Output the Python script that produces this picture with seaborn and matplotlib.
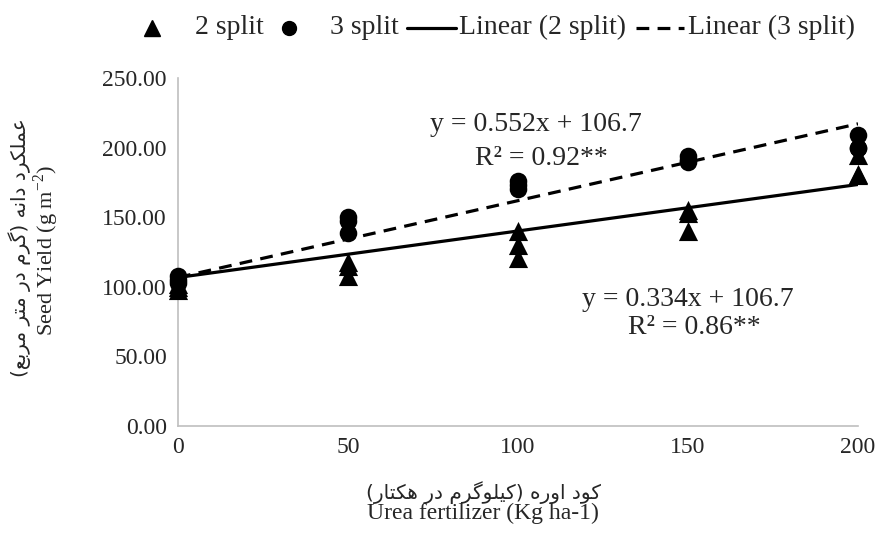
import re
import numpy as np
import pandas as pd
import matplotlib
matplotlib.use("Agg")
import matplotlib.pyplot as plt
from matplotlib.lines import Line2D
import seaborn as sns

# ---------------- data ----------------
urea_levels = [0, 50, 100, 150, 200]
split2_x = [0, 0, 0, 50, 50, 50, 100, 100, 100, 150, 150, 150, 200, 200, 200]
split2_y = [100, 98, 102, 118, 115, 108, 140, 130, 121, 155, 153, 140, 195, 181, 180]
split3_x = [0, 0, 0, 50, 50, 50, 100, 100, 100, 150, 150, 150, 200, 200, 200]
split3_y = [108, 105, 103, 150, 147, 139, 176, 173, 170, 194, 191, 190, 209, 200, 200]
fit2 = (0.334, 106.7)
fit3 = (0.552, 106.7)
y_ticks = [0, 50, 100, 150, 200, 250]
legend_labels = ["2 split", "3 split", "Linear (2 split)", "Linear (3 split)"]
eq2_text = ["y = 0.334x + 106.7", "R² = 0.86**"]
eq3_text = ["y = 0.552x + 106.7", "R² = 0.92**"]
xlabel_en = "Urea fertilizer (Kg ha-1)"
ylabel_en = "Seed Yield (g m$^{-2}$)"
xlabel_fa = "کود اوره (کیلوگرم در هکتار)"
ylabel_fa = "عملکرد دانه (گرم در متر مربع)"

# ---------------- simple Persian shaping ----------------
FORMS = {
    "ا": (0xFE8D, 0xFE8E, None, None),
    "ب": (0xFE8F, 0xFE90, 0xFE91, 0xFE92),
    "ت": (0xFE95, 0xFE96, 0xFE97, 0xFE98),
    "د": (0xFEA9, 0xFEAA, None, None),
    "ر": (0xFEAD, 0xFEAE, None, None),
    "ع": (0xFEC9, 0xFECA, 0xFECB, 0xFECC),
    "ل": (0xFEDD, 0xFEDE, 0xFEDF, 0xFEE0),
    "م": (0xFEE1, 0xFEE2, 0xFEE3, 0xFEE4),
    "ن": (0xFEE5, 0xFEE6, 0xFEE7, 0xFEE8),
    "ه": (0xFEE9, 0xFEEA, 0xFEEB, 0xFEEC),
    "و": (0xFEED, 0xFEEE, None, None),
    "ک": (0xFB8E, 0xFB8F, 0xFB90, 0xFB91),
    "گ": (0xFB92, 0xFB93, 0xFB94, 0xFB95),
    "ی": (0xFBFC, 0xFBFD, 0xFBFE, 0xFBFF),
}


def dual(c):
    return c in FORMS and FORMS[c][2] is not None


def shape(s):
    out = []
    for i, c in enumerate(s):
        if c not in FORMS:
            out.append(c)
            continue
        prev = s[i - 1] if i > 0 else ""
        nxt = s[i + 1] if i + 1 < len(s) else ""
        cp = dual(prev)
        cn = dual(c) and nxt in FORMS
        iso, fin, ini, med = FORMS[c]
        if cp and cn:
            out.append(chr(med))
        elif cp:
            out.append(chr(fin))
        elif cn:
            out.append(chr(ini))
        else:
            out.append(chr(iso))
    return "".join(out)


def rtl_full(s):
    m = {"(": ")", ")": "("}
    return "".join(m.get(c, c) for c in shape(s)[::-1])


# ---------------- plot ----------------
sns.set_theme(style="white")
plt.rcParams["font.family"] = ["Liberation Serif", "DejaVu Sans"]
plt.rcParams["mathtext.fontset"] = "custom"
plt.rcParams["mathtext.rm"] = "Liberation Serif"

W, H = 877, 548
fig = plt.figure(figsize=(W / 100, H / 100), dpi=100)
ax = fig.add_axes([178 / W, 1 - 426 / H, 680 / W, 348 / H])

df2 = pd.DataFrame({"x": split2_x, "y": split2_y})
df3 = pd.DataFrame({"x": split3_x, "y": split3_y})
sns.scatterplot(data=df3, x="x", y="y", marker="o", color="black", s=160,
                edgecolor="black", linewidth=0, ax=ax, clip_on=False, zorder=3)
sns.scatterplot(data=df2, x="x", y="y", marker="^", color="black", s=190,
                edgecolor="black", linewidth=0, ax=ax, clip_on=False, zorder=3)

dash = (0, (4, 2.6))
xs = np.array([urea_levels[0], urea_levels[-1]])
sns.lineplot(x=xs, y=fit2[0] * xs + fit2[1], color="black", lw=2.3, ax=ax, zorder=2)
sns.lineplot(x=xs, y=fit3[0] * xs + fit3[1], color="black", lw=2.3, ax=ax,
             zorder=2, linestyle=dash)

ax.set_xlim(0, 200)
ax.set_ylim(0, 250)
ax.set_xticks(urea_levels)
ax.set_xticklabels([str(v) for v in urea_levels], fontsize=17)
ax.set_yticks(y_ticks)
ax.set_yticklabels([f"{v:.2f}" for v in y_ticks], fontsize=17)
ax.tick_params(axis="both", length=0, pad=8)
for side in ["top", "right"]:
    ax.spines[side].set_visible(False)
for side in ["left", "bottom"]:
    ax.spines[side].set_color("#bfbfbf")
    ax.spines[side].set_linewidth(1.2)
ax.set_xlabel("")
ax.set_ylabel("")

# equations
ax.text(105.3, 216.5, eq3_text[0], ha="center", va="center", fontsize=20)
ax.text(106.8, 192.0, eq3_text[1], ha="center", va="center", fontsize=20)
ax.text(150.0, 91.0, eq2_text[0], ha="center", va="center", fontsize=20)
ax.text(152.0, 71.0, eq2_text[1], ha="center", va="center", fontsize=20)

# axis labels
fig.text(483 / W, 1 - 513 / H, xlabel_en, ha="center", va="center", fontsize=17)
fig.text(483 / W, 1 - 493 / H, rtl_full(xlabel_fa), ha="center",
         va="center", fontsize=14.5, family=["DejaVu Sans"])
fig.text(46 / W, 1 - 250 / H, ylabel_en, ha="center", va="center",
         rotation=90, fontsize=16)
fig.text(20 / W, 1 - 248 / H, rtl_full(ylabel_fa), ha="center", va="center",
         rotation=90, fontsize=14.5, family=["DejaVu Sans"])

# legend (drawn manually at the reference positions)
ly = 1 - 28 / H
base = 1 - 34 / H
fig.add_artist(Line2D([152 / W], [ly], marker="^", color="black", linestyle="none",
                      markersize=11, transform=fig.transFigure))
fig.add_artist(Line2D([289 / W], [ly], marker="o", color="black", linestyle="none",
                      markersize=10, transform=fig.transFigure))
fig.add_artist(Line2D([407 / W, 456 / W], [ly, ly], color="black", lw=2.3,
                      transform=fig.transFigure))
fig.add_artist(Line2D([636 / W, 684 / W], [ly, ly], color="black", lw=2.3,
                      linestyle=dash, transform=fig.transFigure))
for xpix, lab in zip([195, 330, 459, 688], legend_labels):
    fig.text(xpix / W, base, lab, ha="left", va="baseline", fontsize=20)

fig.savefig("out.png", dpi=100)
